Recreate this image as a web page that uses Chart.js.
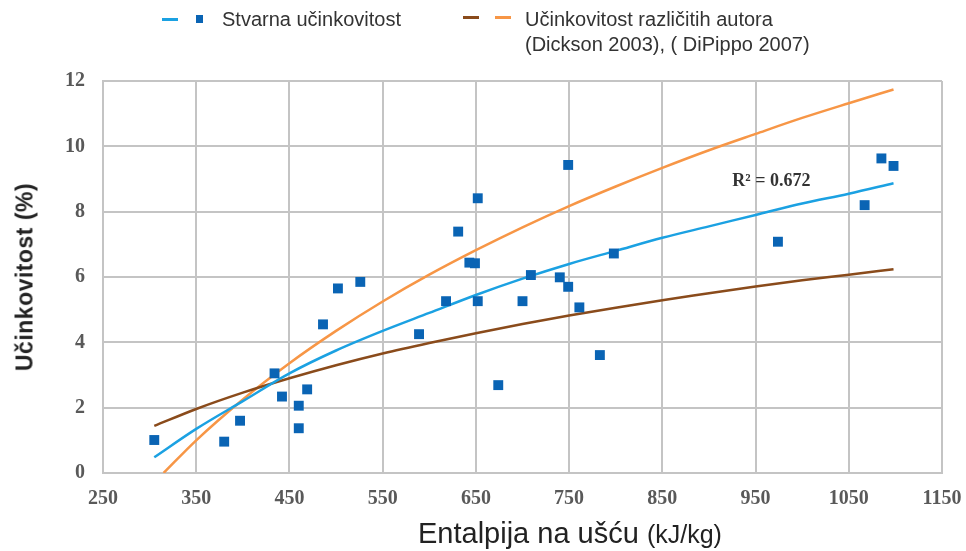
<!DOCTYPE html>
<html>
<head>
<meta charset="utf-8">
<script src="https://cdn.jsdelivr.net/npm/chart.js@4.4.1/dist/chart.umd.min.js"></script>
<style>
  html, body { margin: 0; padding: 0; background: #fff; }
  #wrap { position: relative; width: 966px; height: 551px; }
  #chart { position: absolute; left: 0; top: 0; }
  .txt { position: absolute; font-family: "Liberation Sans", Arial, sans-serif; color: #333; white-space: nowrap; }
  .legend { font-size: 20px; line-height: 25px; }
  .dash { position: absolute; height: 3px; width: 16px; }
  .sq { position: absolute; width: 7px; height: 8px; background: #0a64b4; }
</style>
</head>
<body>
<div id="wrap">
  <canvas id="chart" width="966" height="551"></canvas>

  <div class="dash" style="left:162px;top:18px;background:#1ba1e2"></div>
  <div class="sq" style="left:196px;top:15px"></div>
  <div class="txt legend" style="left:222px;top:7px">Stvarna učinkovitost</div>

  <div class="dash" style="left:463px;top:16px;background:#8a4b1b"></div>
  <div class="dash" style="left:495px;top:16px;background:#f79646"></div>
  <div class="txt legend" style="left:525px;top:7px">Učinkovitost različitih autora<br>(Dickson 2003), ( DiPippo 2007)</div>

  <div class="txt" style="left:25px;top:277px;font-size:23px;font-weight:bold;letter-spacing:0.5px;color:#222;transform:translate(-50%,-50%) rotate(-90deg)">Učinkovitost (%)</div>
  <div class="txt" style="left:418px;top:517px;font-size:29px;color:#222">Entalpija na ušću <span style="font-size:25px">(kJ/kg)</span></div>
</div>

<script>
// measured points (kJ/kg, %)
const enthalpy = [305, 380, 397, 434, 442, 460, 460, 469, 486, 502, 526, 589, 618, 631, 643, 649,
  652, 652, 674, 700, 709, 740, 749, 749, 761, 783, 798, 974, 1067, 1085, 1098];
const efficiency = [1.01, 0.96, 1.60, 3.05, 2.34, 2.06, 1.37, 2.56, 4.55, 5.65, 5.85, 4.25, 5.26, 7.39, 6.44, 6.42,
  8.41, 5.26, 2.69, 5.26, 6.06, 5.99, 9.43, 5.70, 5.07, 3.61, 6.72, 7.08, 8.20, 9.63, 9.40];

// trend line
const fitX = [305, 350, 400, 450, 500, 550, 600, 650, 700, 750, 800, 850, 900, 950, 1000, 1050, 1098];
const fitY = [0.48, 1.35, 2.2, 3.05, 3.75, 4.35, 4.9, 5.45, 5.95, 6.4, 6.8, 7.2, 7.55, 7.9, 8.25, 8.55, 8.87];

// other authors
const dicksonX = [305, 350, 400, 450, 500, 550, 600, 650, 700, 750, 800, 850, 900, 950, 1000, 1050, 1098];
const dicksonY = [1.44, 1.96, 2.46, 2.90, 3.30, 3.66, 3.98, 4.28, 4.56, 4.82, 5.06, 5.29, 5.50, 5.71, 5.90, 6.07, 6.24];
const dipippoX = [315, 350, 400, 450, 500, 550, 600, 650, 700, 750, 800, 850, 900, 950, 1000, 1050, 1098];
const dipippoY = [0, 1.0, 2.25, 3.36, 4.35, 5.25, 6.07, 6.82, 7.52, 8.17, 8.77, 9.34, 9.88, 10.38, 10.87, 11.32, 11.74];

const xTicks = [250, 350, 450, 550, 650, 750, 850, 950, 1050, 1150];
const r2Label = "R² = 0.672";

const toXY = (xs, ys) => xs.map((x, i) => ({ x: x, y: ys[i] }));

const r2Plugin = {
  id: "r2",
  afterDatasetsDraw(chart) {
    const ctx = chart.ctx;
    const px = chart.scales.x.getPixelForValue(925);
    const py = chart.scales.y.getPixelForValue(8.94);
    ctx.save();
    ctx.font = "bold 18px 'Liberation Serif', 'Times New Roman', serif";
    ctx.fillStyle = "#333";
    ctx.textAlign = "left";
    ctx.textBaseline = "middle";
    ctx.fillText(r2Label, px, py);
    ctx.restore();
  },
};

const lineStyle = (color) => ({
  type: "scatter",
  showLine: true,
  borderColor: color,
  backgroundColor: color,
  borderWidth: 2.5,
  pointRadius: 0,
  cubicInterpolationMode: "monotone",
  order: 1,
});

const tickFont = { family: "'Liberation Serif', 'Times New Roman', serif", size: 20, weight: "bold" };

new Chart(document.getElementById("chart"), {
  type: "scatter",
  data: {
    datasets: [
      {
        label: "Stvarna učinkovitost",
        data: toXY(enthalpy, efficiency),
        pointStyle: "rect",
        pointRadius: 7,
        backgroundColor: "#0a64b4",
        borderColor: "#0a64b4",
        borderWidth: 0,
        order: 0,
      },
      { label: "trend", data: toXY(fitX, fitY), ...lineStyle("#1ba1e2") },
      { label: "Dickson 2003", data: toXY(dicksonX, dicksonY), ...lineStyle("#8a4b1b") },
      { label: "DiPippo 2007", data: toXY(dipippoX, dipippoY), ...lineStyle("#f79646") },
    ],
  },
  options: {
    responsive: false,
    animation: false,
    layout: { padding: { top: 81, right: 24, left: 0, bottom: 0 } },
    plugins: { legend: { display: false }, tooltip: { enabled: false } },
    scales: {
      x: {
        type: "linear",
        min: 250,
        max: 1150,
        afterBuildTicks: (axis) => { axis.ticks = xTicks.map((v) => ({ value: v })); },
        afterFit: (axis) => {
          axis.height = 78;
          axis.paddingLeft = 0;
          axis.paddingRight = 0;
        },
        grid: { color: "#c4c4c4", lineWidth: 2, drawTicks: false },
        border: { color: "#c4c4c4", width: 2 },
        ticks: { padding: 14, color: "#595959", font: tickFont, callback: (v) => String(v) },
      },
      y: {
        min: 0,
        max: 12,
        afterFit: (axis) => {
          axis.width = 103;
          axis.paddingTop = 0;
          axis.paddingBottom = 0;
        },
        grid: { color: "#c4c4c4", lineWidth: 2, drawTicks: false },
        border: { color: "#c4c4c4", width: 2 },
        ticks: { stepSize: 2, padding: 18, color: "#595959", font: tickFont, callback: (v) => String(v) },
      },
    },
  },
  plugins: [r2Plugin],
});
</script>
</body>
</html>
